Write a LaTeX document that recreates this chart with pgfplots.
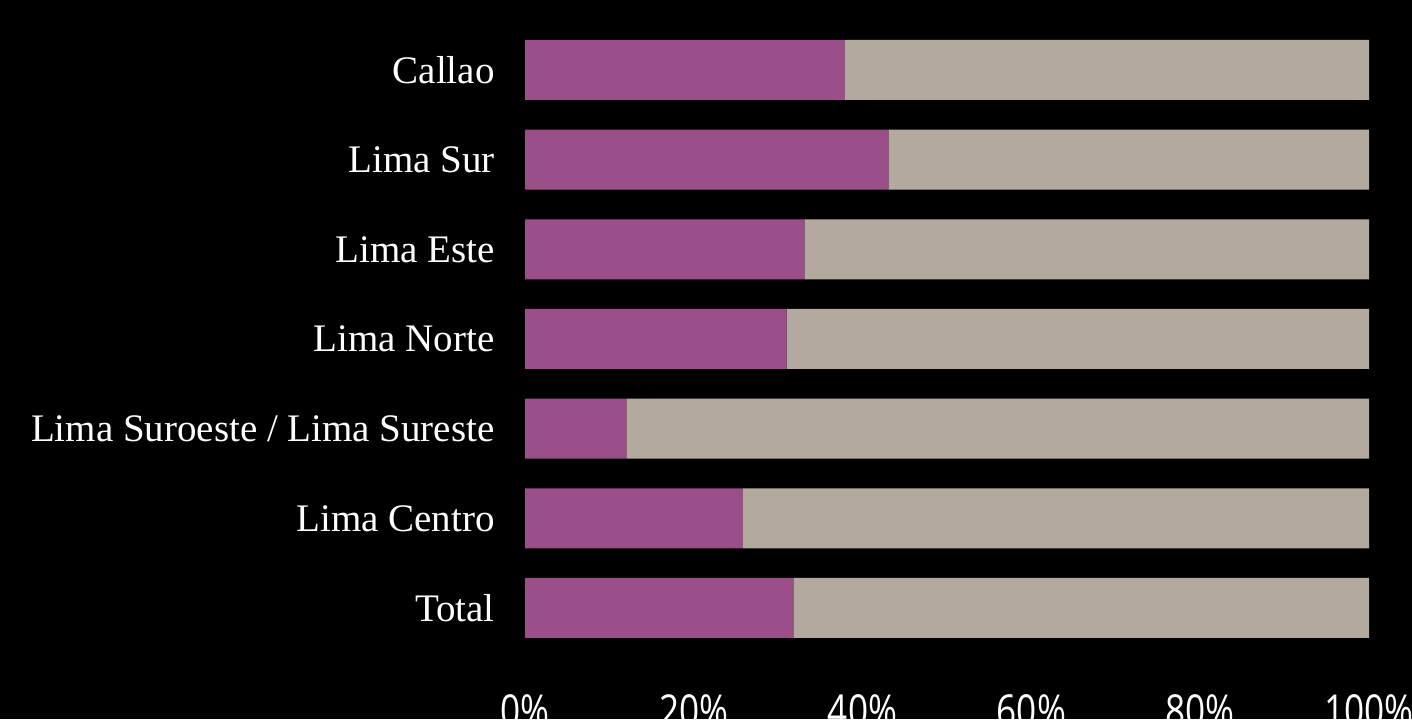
\documentclass[border=0pt]{standalone}
\usepackage{pgfplots}
\pgfplotsset{compat=1.18}
\usepackage{fontspec}
\setmainfont{Liberation Serif}
\newfontfamily\tickfont{Open Sans}
\usepackage{graphicx}
\definecolor{cpurple}{HTML}{9A4F89}
\definecolor{cgrey}{HTML}{B3A99F}
\newcommand{\tl}[1]{\scalebox{0.8}[1]{#1\%}}
\begin{document}
\begin{tikzpicture}
\useasboundingbox (0,0) rectangle (706pt,-359.5pt);
\clip (0,0) rectangle (706pt,-359.5pt);
\fill[black] (0,0) rectangle (706pt,-359.5pt);
\begin{axis}[
  at={(262.5pt,-326.4pt)}, anchor=south west,
  scale only axis, width=422pt, height=313.85pt,
  xbar stacked, bar width=30pt,
  xmin=0, xmax=100, ymin=-0.5, ymax=6.5,
  axis line style={draw=none}, tick style={draw=none},
  ytick={0,1,2,3,4,5,6},
  yticklabels={Total, Lima Centro, Lima Suroeste / Lima Sureste, Lima Norte, Lima Este, Lima Sur, Callao},
  yticklabel style={font=\fontsize{19.5}{24}\selectfont, text=white, inner sep=0pt, xshift=-15pt, anchor=east},
  xtick={0,20,40,60,80,100},
  xticklabels={\tl{0},\tl{20},\tl{40},\tl{60},\tl{80},\tl{100}},
  xticklabel style={font=\tickfont\fontsize{22}{26}\selectfont, text=white, inner sep=0pt, anchor=north, yshift=-20.5pt},
]
\addplot[fill=cpurple, draw=none] coordinates {(31.8,0) (25.8,1) (12.0,2) (31.0,3) (33.1,4) (43.1,5) (37.9,6)};
\addplot[fill=cgrey, draw=none] coordinates {(68.2,0) (74.2,1) (88.0,2) (69.0,3) (66.9,4) (56.9,5) (62.1,6)};
\end{axis}
\end{tikzpicture}
\end{document}
